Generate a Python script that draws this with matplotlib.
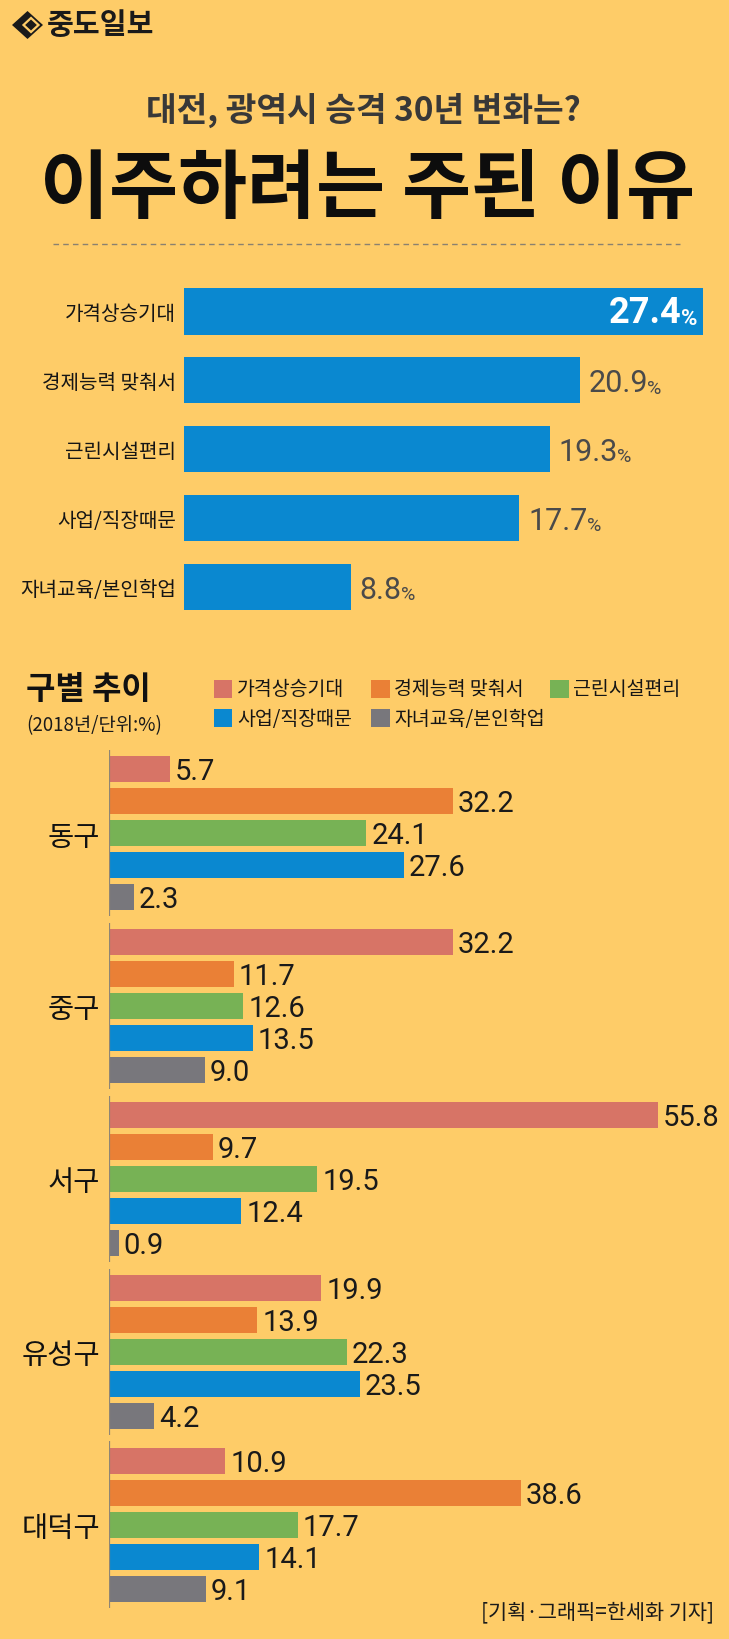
import matplotlib
matplotlib.use('Agg')
import matplotlib.pyplot as plt
from matplotlib.patches import Rectangle, Polygon
from matplotlib.lines import Line2D
from matplotlib.font_manager import FontProperties

# ---------------- data ----------------
top_categories = ['가격상승기대', '경제능력 맞춰서', '근린시설편리', '사업/직장때문', '자녀교육/본인학업']
top_values = [27.4, 20.9, 19.3, 17.7, 8.8]

districts = ['동구', '중구', '서구', '유성구', '대덕구']
series_names = ['가격상승기대', '경제능력 맞춰서', '근린시설편리', '사업/직장때문', '자녀교육/본인학업']
price_rise = [5.7, 32.2, 55.8, 19.9, 10.9]
economic_fit = [32.2, 11.7, 9.7, 13.9, 38.6]
facilities = [24.1, 12.6, 19.5, 22.3, 17.7]
work = [27.6, 13.5, 12.4, 23.5, 14.1]
education = [2.3, 9.0, 0.9, 4.2, 9.1]
series_values = [price_rise, economic_fit, facilities, work, education]

series_colors = ['#D77466', '#EA8036', '#77B255', '#0A88D0', '#78777C']
TOP_COLOR = '#0A88D0'
BG = '#FECC68'

title_text = '이주하려는 주된 이유'
subtitle_text = '대전, 광역시 승격 30년 변화는?'
logo_text = '중도일보'
section_title = '구별 추이'
section_sub = '(2018년/단위:%)'
credit_text = '[기획·그래픽=한세화 기자]'

# ---------------- fonts ----------------
plt.rcParams['font.family'] = ['Noto Sans CJK KR', 'DejaVu Sans']
KR = ['Noto Sans CJK KR', 'DejaVu Sans']
NUM_R = FontProperties(family=['Roboto', 'DejaVu Sans'])
NUM_B = FontProperties(family=['Roboto', 'DejaVu Sans'], weight='bold')

W, H, DPI = 729, 1640, 100


def fx(px):
    return px / W


def fy(py):
    return 1 - py / H


def pt(px):
    return px * 72 / DPI


def fp(base, size):
    p = base.copy()
    p.set_size(size)
    return p


S_TOP, S_TOP_PCT, S_IN, S_IN_PCT, S_BOT = 22, 14, 26, 16, 21

fig = plt.figure(figsize=(W / DPI, H / DPI), dpi=DPI, facecolor=BG)

# ---------------- header ----------------
cx, cy, hw, hh = 27.5, 26, 15.5, 14
fig.add_artist(Polygon([(fx(cx - hw), fy(cy)), (fx(cx), fy(cy - hh)), (fx(cx + hw), fy(cy)),
                        (fx(cx), fy(cy + hh))], closed=True, transform=fig.transFigure,
                       facecolor='#1a1a1a', edgecolor='none'))
ix, iy, iw, ih = 31, 26, 7.5, 7
fig.add_artist(Polygon([(fx(ix - iw), fy(iy)), (fx(ix), fy(iy - ih)), (fx(ix + iw), fy(iy)),
                        (fx(ix), fy(iy + ih))], closed=True, transform=fig.transFigure,
                       facecolor='#1a1a1a', edgecolor=BG, linewidth=1.6))
fig.text(fx(47), fy(25), logo_text, fontsize=21, fontweight='bold', color='#1a1a1a',
         ha='left', va='center', family=KR)

fig.text(fx(363), fy(110), subtitle_text, fontsize=24, fontweight='bold', color='#383838',
         ha='center', va='center', family=KR)
fig.text(fx(367), fy(190), title_text, fontsize=54, fontweight='heavy', color='#0d0d0d',
         ha='center', va='center', family=KR)
fig.add_artist(Line2D([fx(53), fx(680)], [fy(245), fy(245)], transform=fig.transFigure,
                      color='#8a8170', linewidth=1.0, linestyle=(0, (4, 3))))

# ---------------- top chart ----------------
ax1 = fig.add_axes([fx(184), fy(622.5), fx(729) - fx(184), (622.5 - 278) / H])
ax1.set_facecolor('none')
n = len(top_values)
ax1.set_xlim(0, 28.77)
ax1.set_ylim(n - 0.5, -0.5)
ax1.barh(range(n), top_values, height=0.67, color=TOP_COLOR)
for s in ax1.spines.values():
    s.set_visible(False)
ax1.set_xticks([])
ax1.set_yticks(range(n))
ax1.set_yticklabels(top_categories, fontsize=14.5, color='#151515', family=KR)
ax1.tick_params(axis='y', length=0, pad=pt(8))

vmax = max(top_values)
for i, v in enumerate(top_values):
    if v == vmax:
        pct = ax1.annotate('%', xy=(v, i), xytext=(pt(-6), -0.716 * S_IN / 2),
                           textcoords='offset points', ha='right', va='baseline',
                           fontproperties=fp(NUM_B, S_IN_PCT), color='white',
                           annotation_clip=False)
        ax1.annotate(f'{v:.1f}', xy=(0, 0), xycoords=pct, xytext=(0.5, -0.07 * (S_IN - S_IN_PCT)),
                     textcoords='offset points', ha='right', va='bottom',
                     fontproperties=fp(NUM_B, S_IN), color='white',
                     annotation_clip=False)
    else:
        num = ax1.annotate(f'{v:.1f}', xy=(v, i), xytext=(pt(9), -0.716 * S_TOP / 2),
                           textcoords='offset points', ha='left', va='baseline',
                           fontproperties=fp(NUM_R, S_TOP), color='#4a4a4a',
                           annotation_clip=False)
        ax1.annotate('%', xy=(1, 0), xycoords=num, xytext=(-0.8, 0.07 * (S_TOP - S_TOP_PCT)),
                     textcoords='offset points', ha='left', va='bottom',
                     fontproperties=fp(NUM_R, S_TOP_PCT), color='#4a4a4a',
                     annotation_clip=False)

# ---------------- section header & legend ----------------
fig.text(fx(26), fy(690), section_title, fontsize=23, fontweight='bold', color='#111111',
         ha='left', va='center', family=KR)
fig.text(fx(26), fy(726), section_sub, fontsize=13.5, color='#1a1a1a',
         ha='left', va='center', family=KR)

legend_pos = [(214, 681), (371, 681), (550, 681), (214, 710), (371, 710)]
for (lx, ly), name, col in zip(legend_pos, series_names, series_colors):
    fig.add_artist(Rectangle((fx(lx), fy(ly + 18)), 18.5 / W, 18 / H, transform=fig.transFigure,
                             facecolor=col, edgecolor='none'))
    fig.text(fx(lx + 23), fy(ly + 9), name, fontsize=14, color='#151515',
             ha='left', va='center', family=KR)

# ---------------- bottom chart ----------------
G = 172.9 / 32.0
ng = len(districts)
ns = len(series_values)
top_px, bot_px = 750.8, 1608.9
ax2 = fig.add_axes([fx(109), fy(bot_px), fx(658) - fx(109), (bot_px - top_px) / H])
ax2.set_facecolor('none')
XMAX = 51.45
ax2.set_xlim(0, XMAX)
ax2.set_ylim((ng - 1) * G + (ns - 1) + 0.6, -0.6)
for s in ax2.spines.values():
    s.set_visible(False)
ax2.set_xticks([])

for si, (vals, col) in enumerate(zip(series_values, series_colors)):
    ys = [g * G + si for g in range(ng)]
    ax2.barh(ys, vals, height=0.81, color=col)
    for y, v in zip(ys, vals):
        ax2.annotate(f'{v:.1f}', xy=(min(v, XMAX), y), xytext=(pt(5), -0.716 * S_BOT / 2),
                     textcoords='offset points', ha='left', va='baseline',
                     fontproperties=fp(NUM_R, S_BOT), color='#1a1a1a', annotation_clip=False)

for g in range(ng):
    ax2.vlines(0, g * G - 0.6, g * G + (ns - 1) + 0.6, color='#8f8574', linewidth=1.6)

ax2.set_yticks([g * G + (ns - 1) / 2 for g in range(ng)])
ax2.set_yticklabels(districts, fontsize=20.5, color='#111111', family=KR)
ax2.tick_params(axis='y', length=0, pad=pt(9))

fig.text(fx(714), fy(1612), credit_text, fontsize=15, color='#1a1a1a',
         ha='right', va='center', family=KR)

fig.savefig('out.png', dpi=DPI, facecolor=BG)
